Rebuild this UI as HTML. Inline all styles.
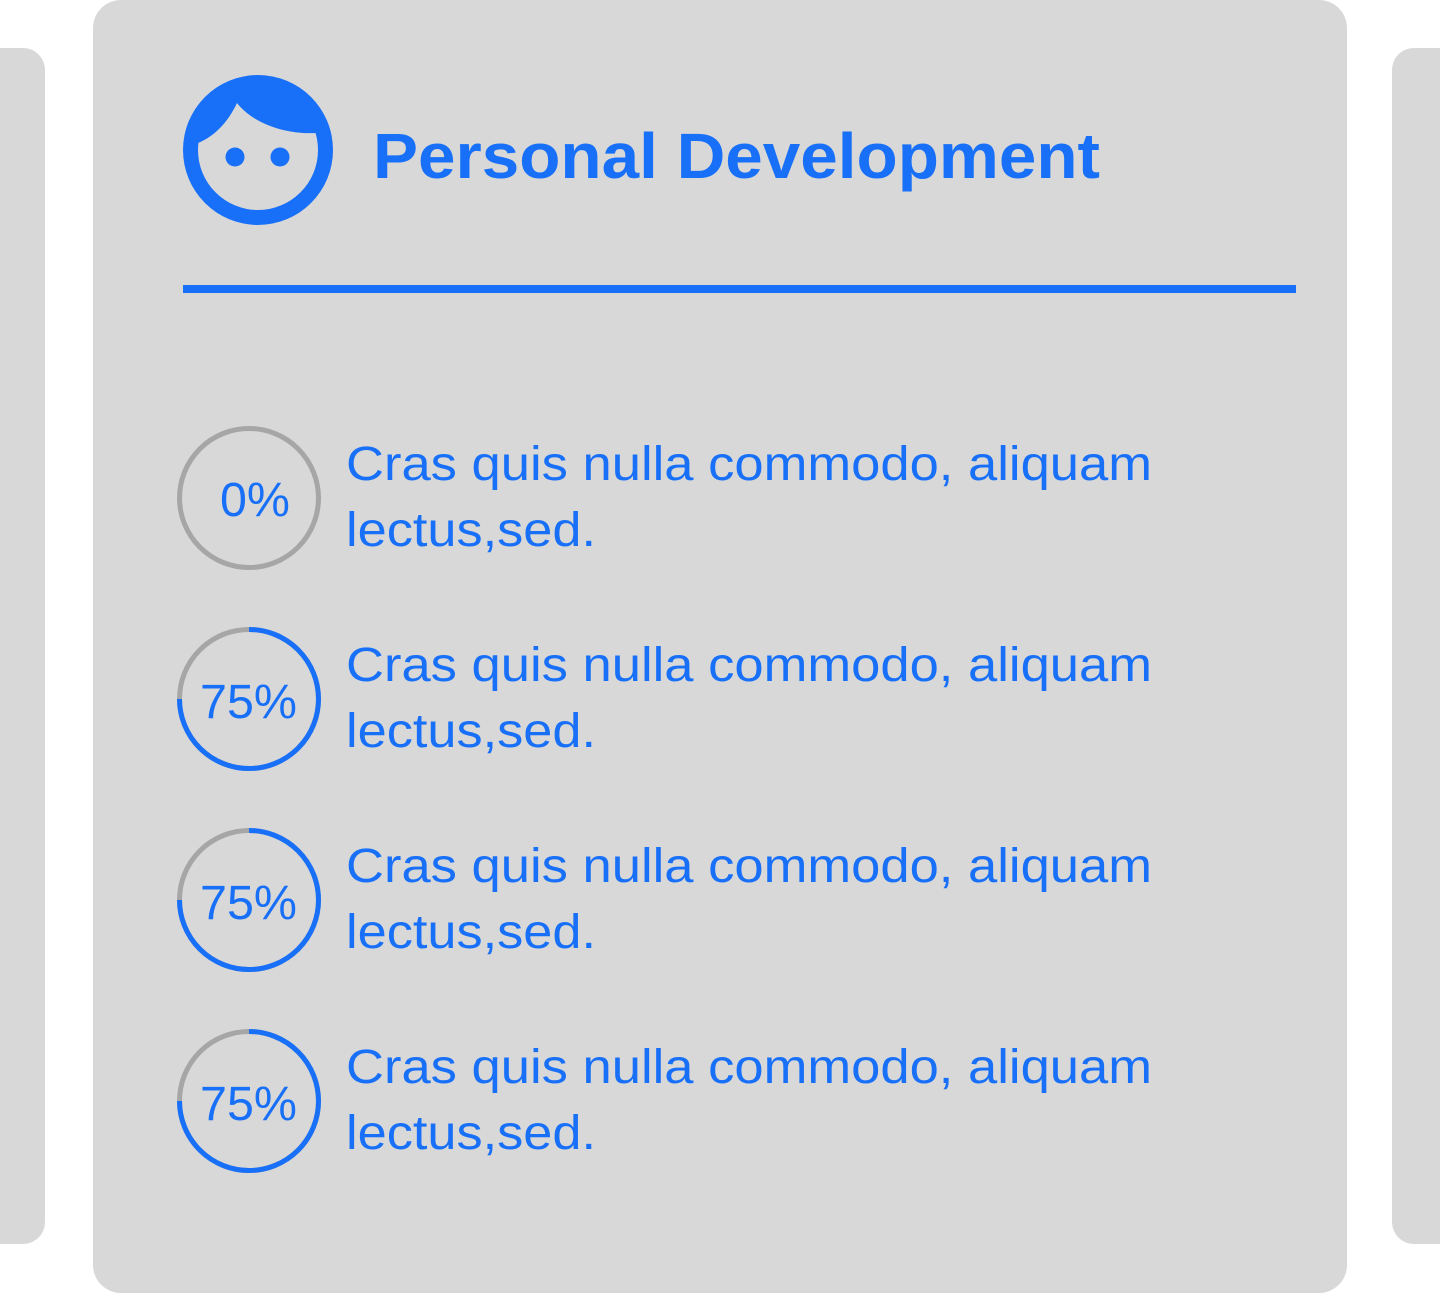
<!DOCTYPE html>
<html><head><style>
html,body{margin:0;padding:0;background:#fff;}
svg{display:block;}
text{font-family:"Liberation Sans",sans-serif;fill:#1870f8;}
</style></head><body>
<svg width="1440" height="1293" viewBox="0 0 1440 1293">
<rect x="-30" y="48" width="75" height="1196" rx="22" fill="#d8d8d8"/>
<rect x="1392" y="48" width="80" height="1196" rx="22" fill="#d8d8d8"/>
<rect x="93" y="0" width="1254" height="1293" rx="28" fill="#d8d8d8"/>
<!-- icon -->
<circle cx="258" cy="150" r="75" fill="#1870f8"/>
<circle cx="258" cy="150" r="60" fill="#d8d8d8"/>
<path d="M198 143 C200 60 316 60 317 133 C280 135 250 120 237 103 C228 122 215 136 198 143 Z" fill="#1870f8"/>
<circle cx="235" cy="157" r="9.5" fill="#1870f8"/>
<circle cx="280" cy="157" r="9.5" fill="#1870f8"/>
<text x="373" y="178" font-size="64" font-weight="bold" textLength="727" lengthAdjust="spacingAndGlyphs">Personal Development</text>
<rect x="183" y="285" width="1113" height="8" fill="#1870f8"/>
<!-- items -->
<circle cx="249" cy="498" r="69.5" fill="none" stroke="#a6a6a6" stroke-width="5"/>
<text x="220" y="516" font-size="48" textLength="70" lengthAdjust="spacingAndGlyphs">0%</text>
<g fill="none" stroke-width="5">
<circle cx="249" cy="699" r="69.5" stroke="#a6a6a6"/>
<path d="M249 629.5 A69.5 69.5 0 1 1 179.5 699" stroke="#1870f8"/>
<circle cx="249" cy="900" r="69.5" stroke="#a6a6a6"/>
<path d="M249 830.5 A69.5 69.5 0 1 1 179.5 900" stroke="#1870f8"/>
<circle cx="249" cy="1101" r="69.5" stroke="#a6a6a6"/>
<path d="M249 1031.5 A69.5 69.5 0 1 1 179.5 1101" stroke="#1870f8"/>
</g>
<text x="200" y="718" font-size="48" textLength="97" lengthAdjust="spacingAndGlyphs">75%</text>
<text x="200" y="919" font-size="48" textLength="97" lengthAdjust="spacingAndGlyphs">75%</text>
<text x="200" y="1120" font-size="48" textLength="97" lengthAdjust="spacingAndGlyphs">75%</text>
<g font-size="48">
<text x="346" y="480" textLength="806" lengthAdjust="spacingAndGlyphs">Cras quis nulla commodo, aliquam</text>
<text x="346" y="546" textLength="250" lengthAdjust="spacingAndGlyphs">lectus,sed.</text>
<text x="346" y="681" textLength="806" lengthAdjust="spacingAndGlyphs">Cras quis nulla commodo, aliquam</text>
<text x="346" y="747" textLength="250" lengthAdjust="spacingAndGlyphs">lectus,sed.</text>
<text x="346" y="882" textLength="806" lengthAdjust="spacingAndGlyphs">Cras quis nulla commodo, aliquam</text>
<text x="346" y="948" textLength="250" lengthAdjust="spacingAndGlyphs">lectus,sed.</text>
<text x="346" y="1083" textLength="806" lengthAdjust="spacingAndGlyphs">Cras quis nulla commodo, aliquam</text>
<text x="346" y="1149" textLength="250" lengthAdjust="spacingAndGlyphs">lectus,sed.</text>
</g>
</svg>
</body></html>
